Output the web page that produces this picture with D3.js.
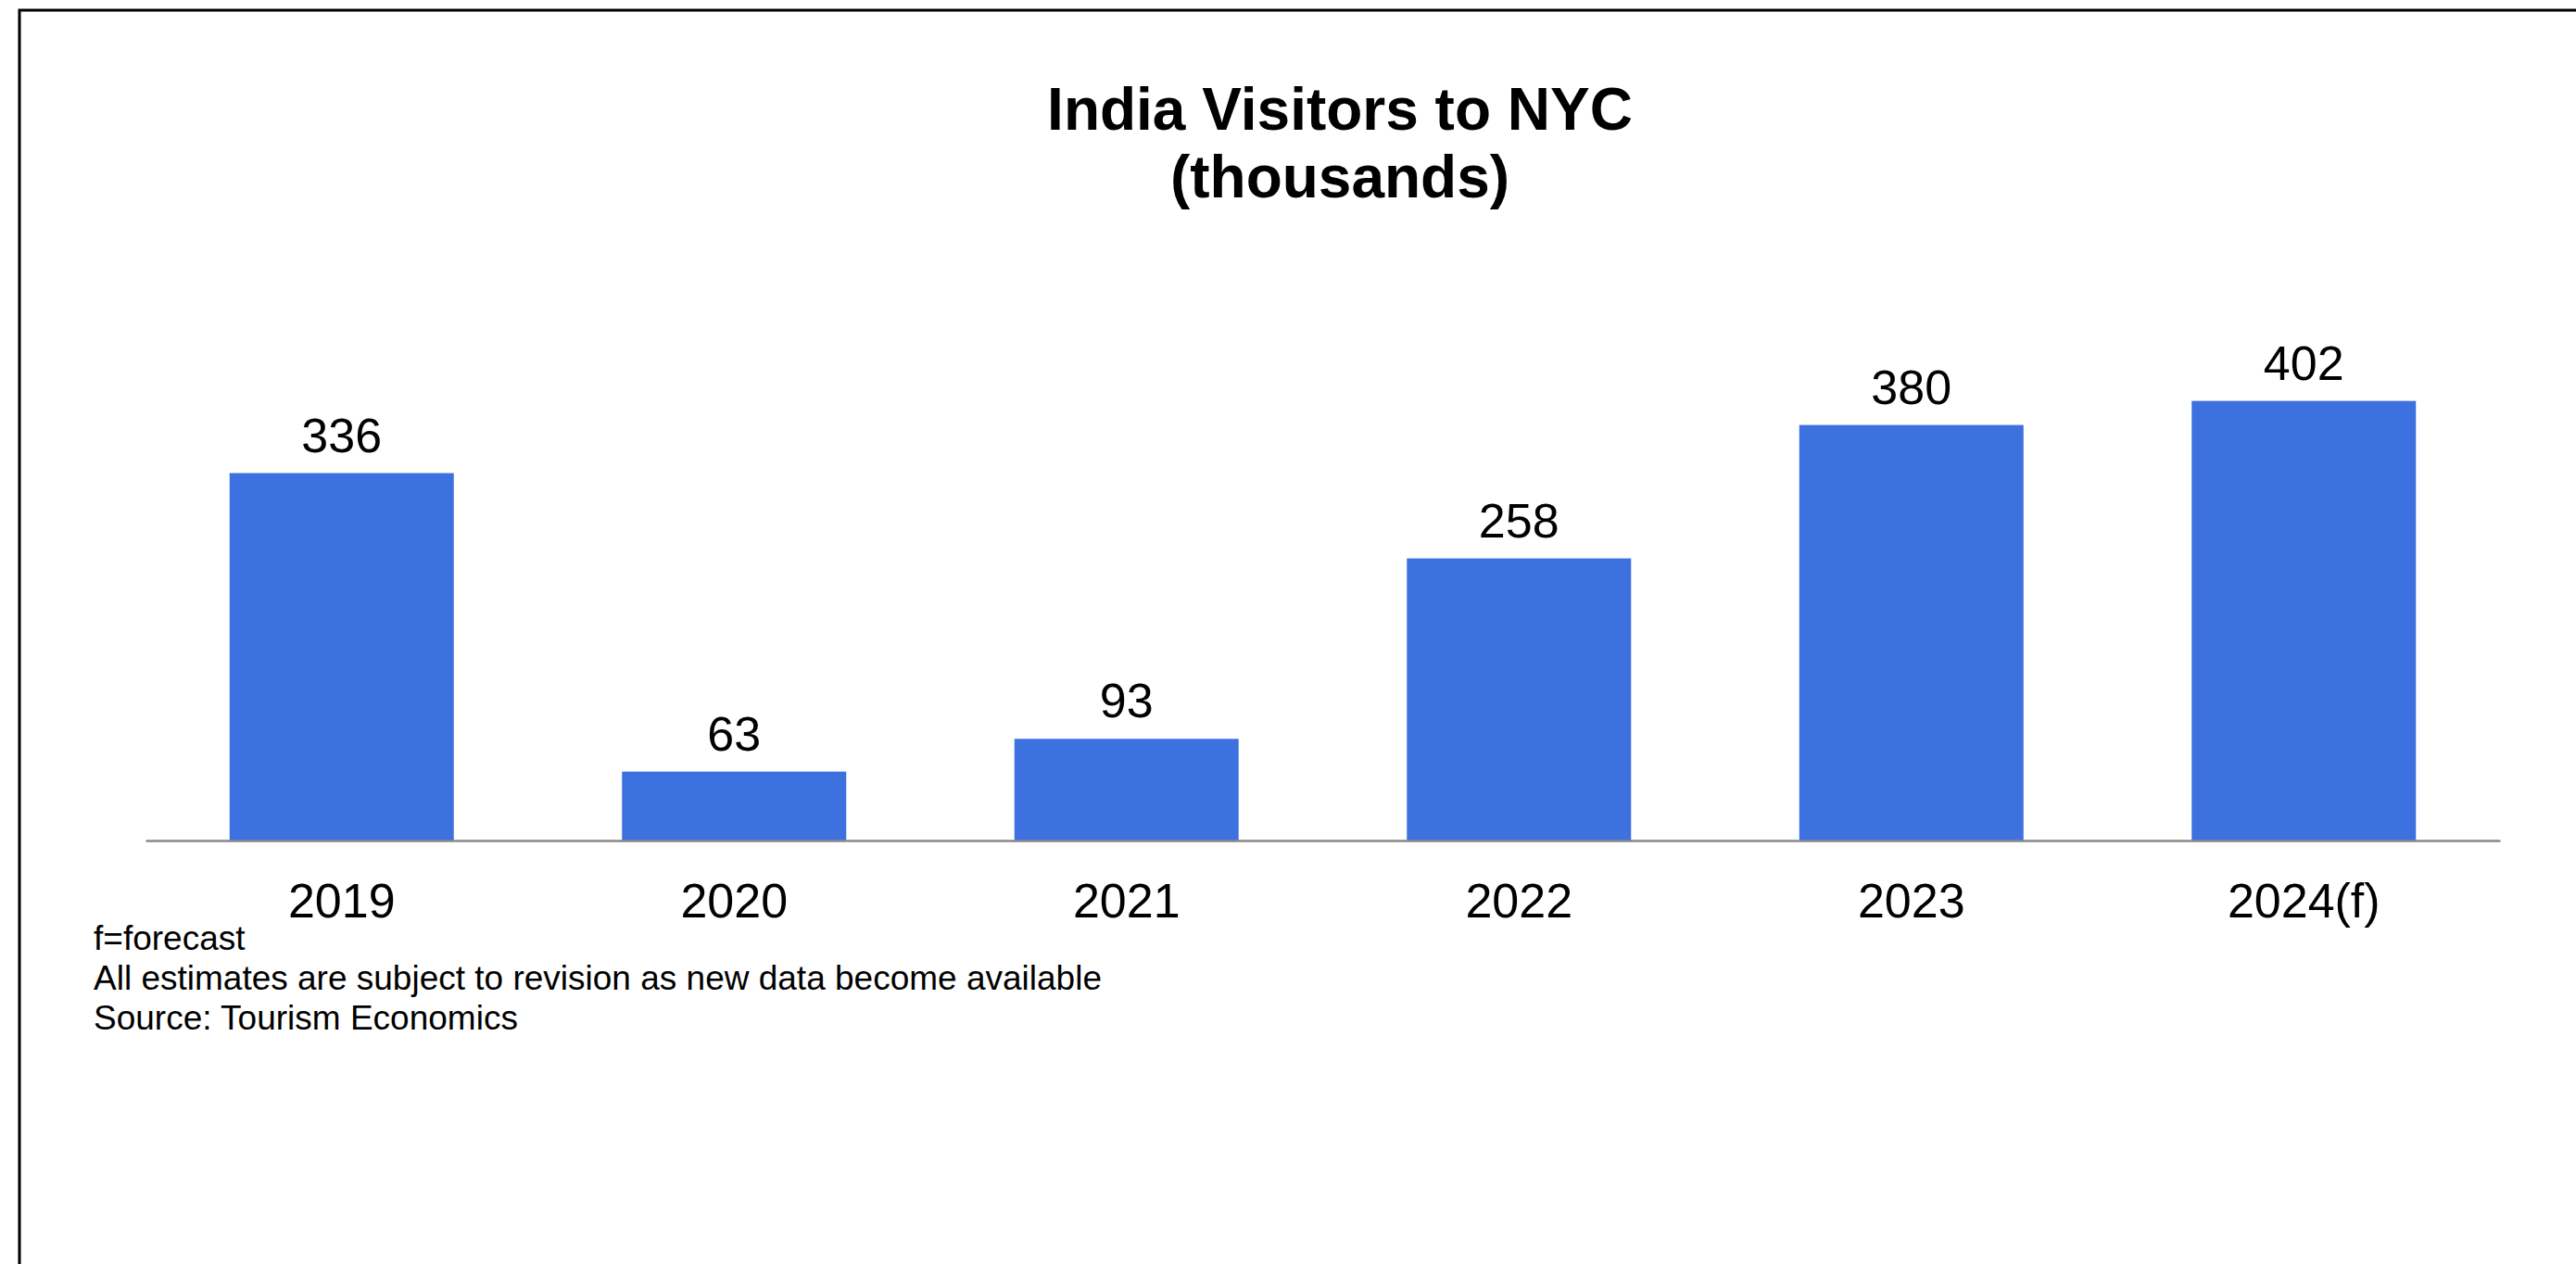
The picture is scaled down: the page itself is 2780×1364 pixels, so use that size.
<!DOCTYPE html>
<html>
<head>
<meta charset="utf-8">
<script src="https://cdn.jsdelivr.net/npm/d3@7"></script>
<style>
  html, body { margin: 0; padding: 0; background: #fff; }
  svg { display: block; }
</style>
</head>
<body>
<div id="chart"></div>
<script>
// ── India visitors to NYC: simple bar chart with value labels ────────────────
const YEARS  = ["2019", "2020", "2021", "2022", "2023", "2024(f)"];
const VALUES = [336, 63, 93, 258, 380, 402];
const TITLE_LINES = ["India Visitors to NYC", "(thousands)"];
const NOTES = [
  "f=forecast",
  "All estimates are subject to revision as new data become available",
  "Source: Tourism Economics"
];

(function () {
  "use strict";

  const W = 2780, H = 1364;
  const FONT = "'Liberation Sans', Arial, Helvetica, sans-serif";
  const BAR = "#3e71e0";

  const svg = d3.select("#chart").append("svg")
    .attr("width", W).attr("height", H)
    .attr("viewBox", `0 0 ${W} ${H}`);

  svg.append("rect").attr("width", W).attr("height", H).attr("fill", "#fff");

  // frame (runs off the right and bottom edges like the source)
  svg.append("rect")
    .attr("x", 21).attr("y", 11)
    .attr("width", W + 20).attr("height", H + 20)
    .attr("fill", "none")
    .attr("stroke", "#000")
    .attr("stroke-width", 3);

  // Title
  svg.append("text")
    .attr("x", 1446).attr("y", 140)
    .attr("text-anchor", "middle")
    .attr("font-family", FONT)
    .attr("font-weight", "bold")
    .attr("font-size", 64)
    .selectAll("tspan")
    .data(TITLE_LINES)
    .join("tspan")
      .attr("x", 1446)
      .attr("dy", (d, i) => i === 0 ? 0 : 73)
      .text(d => d);

  // Scales
  const x = d3.scaleBand()
    .domain(YEARS)
    .range([157, 2698])
    .paddingInner(0.4286)
    .paddingOuter(0.2143);

  const y = d3.scaleLinear()
    .domain([0, 450])
    .range([907, 376]);

  // Bars
  svg.append("g")
    .selectAll("rect")
    .data(VALUES)
    .join("rect")
      .attr("x", (d, i) => x(YEARS[i]))
      .attr("y", d => y(d))
      .attr("width", x.bandwidth())
      .attr("height", d => y(0) - y(d))
      .attr("fill", BAR);

  // Value labels
  svg.append("g")
    .selectAll("text")
    .data(VALUES)
    .join("text")
      .attr("x", (d, i) => x(YEARS[i]) + x.bandwidth() / 2)
      .attr("y", d => y(d) - 23)
      .attr("text-anchor", "middle")
      .attr("font-family", FONT)
      .attr("font-size", 52)
      .attr("fill", "#000")
      .text(d => d);

  // X axis: baseline rule + category labels
  const xAxis = d3.axisBottom(x).tickSize(0).tickPadding(0);
  const gx = svg.append("g")
    .attr("transform", `translate(0,${y(0)})`)
    .call(xAxis);
  gx.select(".domain")
    .attr("stroke", "#898989")
    .attr("stroke-width", 2.5);
  gx.selectAll(".tick text")
    .attr("y", 83)
    .attr("dy", null)
    .attr("font-family", FONT)
    .attr("font-size", 52)
    .attr("fill", "#000");

  // Footnotes
  svg.append("g")
    .selectAll("text")
    .data(NOTES)
    .join("text")
      .attr("x", 101)
      .attr("y", (d, i) => 1025 + i * 43)
      .attr("font-family", FONT)
      .attr("font-size", 37)
      .attr("fill", "#000")
      .text(d => d);
})();
</script>
</body>
</html>
